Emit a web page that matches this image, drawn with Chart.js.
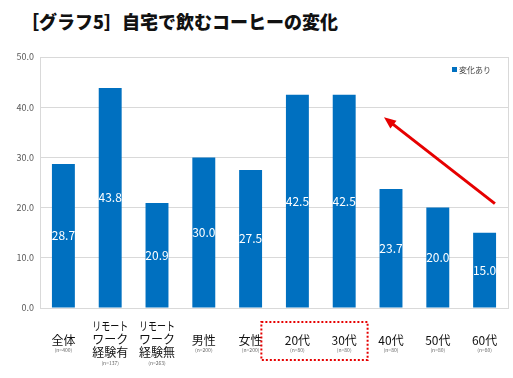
<!DOCTYPE html>
<html>
<head>
<meta charset="utf-8">
<script src="https://cdn.jsdelivr.net/npm/chart.js@4/dist/chart.umd.min.js"></script>
<style>
  html, body { margin: 0; padding: 0; background: #fff; }
  #wrap { position: relative; width: 513px; height: 378px; }
  #title { position: absolute; left: 21px; top: 8px; font: 900 18px "Noto Sans CJK JP", sans-serif; color: #111; white-space: nowrap; }
  canvas { position: absolute; left: 0; top: 0; }
</style>
</head>
<body>
<div id="wrap">
  <div id="title">［グラフ5］自宅で飲むコーヒーの変化</div>
  <canvas id="c" width="513" height="378"></canvas>
</div>
<script>
const categories = [
  ['全体'],
  ['リモート', 'ワーク', '経験有'],
  ['リモート', 'ワーク', '経験無'],
  ['男性'],
  ['女性'],
  ['20代'],
  ['30代'],
  ['40代'],
  ['50代'],
  ['60代']
];
const sampleSizes = ['(n=400)', '(n=137)', '(n=263)', '(n=200)', '(n=200)', '(n=80)', '(n=80)', '(n=80)', '(n=80)', '(n=80)'];
const seriesLabel = '変化あり';
const values = [28.7, 43.8, 20.9, 30.0, 27.5, 42.5, 42.5, 23.7, 20.0, 15.0];
const yTicks = [0, 10, 20, 30, 40, 50];

const BLUE = '#0070C0';
const RED = '#E60000';
const JP = '"Noto Sans CJK JP", sans-serif';

const extras = {
  id: 'extras',
  afterDatasetsDraw(chart) {
    const ctx = chart.ctx;
    const meta = chart.getDatasetMeta(0);
    ctx.save();
    ctx.fillStyle = '#ffffff';
    ctx.font = '12px ' + JP;
    ctx.textAlign = 'center';
    ctx.textBaseline = 'middle';
    meta.data.forEach((el, i) => {
      ctx.fillText(values[i].toFixed(1), el.x, (el.y + el.base) / 2);
    });
    ctx.restore();
  },
  afterDraw(chart) {
    const ctx = chart.ctx;
    const xs = chart.scales.x;
    const ys = chart.scales.y;
    const area = chart.chartArea;
    ctx.save();
    ctx.strokeStyle = '#d9d9d9';
    ctx.lineWidth = 1;
    ctx.beginPath();
    ctx.moveTo(Math.round(area.right) + 0.5, area.top);
    ctx.lineTo(Math.round(area.right) + 0.5, area.bottom);
    ctx.stroke();

    ctx.textAlign = 'center';
    ctx.textBaseline = 'middle';
    categories.forEach((lines, i) => {
      const x = xs.getPixelForValue(i);
      ctx.fillStyle = '#111';
      ctx.font = '12px ' + JP;
      let nY;
      if (lines.length === 3) {
        const y0 = area.bottom + 18;
        lines.forEach((t, k) => ctx.fillText(t, x, y0 + k * 13, 36));
        nY = y0 + 2 * 13 + 11;
      } else {
        ctx.fillText(lines[0], x, area.bottom + 32, 36);
        nY = area.bottom + 42;
      }
      ctx.fillStyle = '#666';
      ctx.font = '5px ' + JP;
      ctx.fillText(sampleSizes[i], x, nY);
    });

    ctx.fillStyle = BLUE;
    ctx.fillRect(452, 67, 5, 5);
    ctx.fillStyle = '#444';
    ctx.font = '8px ' + JP;
    ctx.textAlign = 'left';
    ctx.textBaseline = 'middle';
    ctx.fillText(chart.data.datasets[0].label, 459, 69.5);

    const step = xs.getPixelForValue(1) - xs.getPixelForValue(0);
    const bx0 = xs.getPixelForValue(5) - step * 0.77;
    const bx1 = xs.getPixelForValue(6) + step * 0.5;
    ctx.strokeStyle = RED;
    ctx.lineWidth = 2;
    ctx.setLineDash([2, 2]);
    ctx.strokeRect(bx0, area.bottom + 14, bx1 - bx0, 38);
    ctx.setLineDash([]);

    const x1 = xs.getPixelForValue(9.22), y1 = ys.getPixelForValue(20.8);
    const x2 = xs.getPixelForValue(6.85), y2 = ys.getPixelForValue(38.0);
    const ang = Math.atan2(y2 - y1, x2 - x1);
    const hl = 12, hw = 5;
    ctx.strokeStyle = RED;
    ctx.fillStyle = RED;
    ctx.lineWidth = 3;
    ctx.beginPath();
    ctx.moveTo(x1, y1);
    ctx.lineTo(x2 - Math.cos(ang) * hl * 0.8, y2 - Math.sin(ang) * hl * 0.8);
    ctx.stroke();
    ctx.beginPath();
    ctx.moveTo(x2, y2);
    ctx.lineTo(x2 - Math.cos(ang) * hl - Math.sin(ang) * hw, y2 - Math.sin(ang) * hl + Math.cos(ang) * hw);
    ctx.lineTo(x2 - Math.cos(ang) * hl + Math.sin(ang) * hw, y2 - Math.sin(ang) * hl - Math.cos(ang) * hw);
    ctx.closePath();
    ctx.fill();
    ctx.restore();
  }
};

new Chart(document.getElementById('c'), {
  type: 'bar',
  data: {
    labels: categories.map(c => c.join('')),
    datasets: [{
      label: seriesLabel,
      data: values,
      backgroundColor: BLUE,
      borderWidth: 0,
      barPercentage: 0.49,
      categoryPercentage: 1.0
    }]
  },
  options: {
    responsive: false,
    animation: false,
    devicePixelRatio: 1,
    layout: { padding: { top: 57, right: 5, left: 0, bottom: 0 } },
    plugins: {
      legend: { display: false },
      tooltip: { enabled: false },
      title: { display: false }
    },
    scales: {
      x: {
        grid: { display: false, drawTicks: false },
        border: { display: true, color: '#d9d9d9' },
        ticks: { display: false },
        afterFit(s) { s.height = 70; }
      },
      y: {
        min: 0,
        max: 50,
        afterBuildTicks(s) { s.ticks = yTicks.map(v => ({ value: v })); },
        grid: { color: '#d9d9d9', drawTicks: false },
        border: { display: true, color: '#d9d9d9' },
        ticks: {
          padding: 6,
          color: '#595959',
          font: { size: 9, family: JP },
          callback: v => Number(v).toFixed(1)
        },
        afterFit(s) { s.width = 40; }
      }
    }
  },
  plugins: [extras]
});
</script>
</body>
</html>
